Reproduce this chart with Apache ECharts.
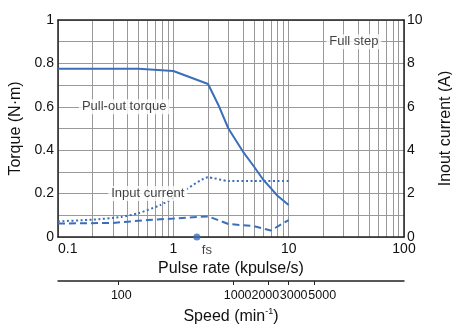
<!DOCTYPE html>
<html>
<head>
<meta charset="utf-8">
<script src="https://cdn.jsdelivr.net/npm/echarts@6/dist/echarts.min.js"></script>
<style>
  html, body { margin: 0; padding: 0; background: #fff; }
  #chart { width: 452px; height: 327px; }
</style>
</head>
<body>
<div id="chart"></div>
<script>
// pulse rate in kpulse/s
const torquePulse = [0.1, 0.5, 1, 2, 2.5, 3, 4, 5, 6, 7, 8, 10];
const torqueValues = [0.775, 0.775, 0.765, 0.705, 0.6, 0.5, 0.395, 0.325, 0.265, 0.225, 0.19, 0.147];

// input current (A), dotted
const dottedPulse = [0.1, 0.2, 0.35, 0.5, 0.77, 1, 1.3, 2, 3, 5, 10];
const dottedCurrent = [0.72, 0.8, 0.92, 1.1, 1.47, 1.8, 2.2, 2.75, 2.58, 2.58, 2.58];

// input current (A), dashed
const dashedPulse = [0.1, 0.3, 0.6, 1, 2, 3, 5, 7, 10];
const dashedCurrent = [0.62, 0.65, 0.78, 0.85, 0.95, 0.6, 0.5, 0.3, 0.78];

const speedTicks = [100, 1000, 2000, 3000, 5000];
const rpmPerKpulse = 300;
const fsPulse = 1.6;

const notes = [
    {name: 'Pull-out torque', value: [0.375, 0.6]},
    {name: 'Input current', value: [0.6, 0.2]},
    {name: 'Full step', value: [36.7, 0.9]}
];

const FONT = "'Liberation Sans', Arial, sans-serif";
const BLUE = '#3b6fba';
const GRID = '#999';
const AXIS = '#222';
const TEXT = '#111';
const SPEED_FS = 12.5;

// minor log gridlines, 2..9 in each decade
const minorPulse = [];
[0.1, 1, 10].forEach(d => {
    for (let k = 2; k <= 9; k++) minorPulse.push(Math.log10(d * k));
});

// the speed labels sit side by side in the original, nudged off their ticks (px)
const speedNudge = {100: 3, 1000: 4, 2000: -3, 3000: 5, 5000: 8};
const speedRich = {};
speedTicks.forEach(s => {
    const n = speedNudge[s];
    const w = String(s).length * 0.556 * SPEED_FS;
    speedRich['s' + s] = {
        fontSize: SPEED_FS, fontFamily: FONT, color: TEXT,
        width: Math.max(2, w - 2 * Math.abs(n)),
        align: n >= 0 ? 'left' : 'right'
    };
});

const zip = (xs, ys) => xs.map((x, i) => [x, ys[i]]);

const chart = echarts.init(document.getElementById('chart'));
chart.setOption({
    animation: false,
    textStyle: {fontFamily: FONT, color: TEXT},
    grid: {left: 58, right: 48, top: 20, bottom: 90, outerBoundsMode: 'none'},
    xAxis: [
        {
            type: 'log', logBase: 10, min: 0.1, max: 100,
            position: 'bottom',
            name: 'Pulse rate (kpulse/s)', nameLocation: 'middle', nameGap: 21,
            nameTextStyle: {fontSize: 16, color: TEXT, fontFamily: FONT},
            axisLine: {onZero: false, lineStyle: {color: AXIS, width: 1.5}},
            axisTick: {show: false},
            axisLabel: {fontSize: 14, color: TEXT, margin: 5, alignMinLabel: 'left', fontFamily: FONT},
            splitLine: {show: true, lineStyle: {color: GRID, width: 1}}
        },
        {
            type: 'value', min: -1, max: 2,
            position: 'top',
            axisLine: {show: true, onZero: false, lineStyle: {color: AXIS, width: 1.5}},
            axisTick: {show: false, customValues: minorPulse},
            axisLabel: {show: false},
            splitLine: {show: true, lineStyle: {color: GRID, width: 1}}
        },
        {
            type: 'value',
            min: Math.log10(0.1 * rpmPerKpulse), max: Math.log10(100 * rpmPerKpulse),
            position: 'bottom', offset: 44,
            name: 'Speed (min{sup|-1})', nameLocation: 'middle', nameGap: 19,
            nameTextStyle: {
                fontSize: 16, color: TEXT, fontFamily: FONT,
                rich: {sup: {fontSize: 9, verticalAlign: 'top', lineHeight: 20, fontFamily: FONT, color: TEXT}}
            },
            axisLine: {show: true, onZero: false, lineStyle: {color: AXIS, width: 1.5}},
            axisTick: {show: true, length: 4, customValues: speedTicks.map(Math.log10), lineStyle: {color: AXIS}},
            axisLabel: {
                color: TEXT, margin: 8, fontFamily: FONT, fontSize: SPEED_FS, hideOverlap: false,
                showMinLabel: true, showMaxLabel: true,
                customValues: speedTicks.map(Math.log10),
                formatter: v => {
                    const s = Math.round(Math.pow(10, v));
                    return '{s' + s + '|' + s + '}';
                },
                rich: speedRich
            },
            splitLine: {show: false}
        }
    ],
    yAxis: [
        {
            type: 'value', min: 0, max: 1, interval: 0.2,
            position: 'left',
            name: 'Torque (N·m)', nameLocation: 'middle', nameGap: 29,
            nameTextStyle: {fontSize: 16, color: TEXT, fontFamily: FONT},
            axisLine: {show: true, onZero: false, lineStyle: {color: AXIS, width: 1.5}},
            axisTick: {show: false},
            axisLabel: {fontSize: 14, color: TEXT, margin: 4, fontFamily: FONT},
            splitLine: {show: true, lineStyle: {color: GRID, width: 1}},
            minorTick: {show: false, splitNumber: 2},
            minorSplitLine: {show: true, lineStyle: {color: GRID, width: 1}}
        },
        {
            type: 'value', min: 0, max: 10, interval: 2,
            position: 'right',
            name: 'Inout current (A)', nameLocation: 'middle', nameGap: 34,
            nameTextStyle: {fontSize: 16, color: TEXT, fontFamily: FONT},
            axisLine: {show: true, onZero: false, lineStyle: {color: AXIS, width: 1.5}},
            axisTick: {show: false},
            axisLabel: {fontSize: 14, color: TEXT, margin: 3, fontFamily: FONT},
            splitLine: {show: false}
        }
    ],
    series: [
        {
            type: 'line', name: 'torque', xAxisIndex: 0, yAxisIndex: 0,
            data: zip(torquePulse, torqueValues),
            symbol: 'none', lineStyle: {color: BLUE, width: 2}
        },
        {
            type: 'line', name: 'current dotted', xAxisIndex: 0, yAxisIndex: 1,
            data: zip(dottedPulse, dottedCurrent), smooth: 0.2,
            symbol: 'none', lineStyle: {color: BLUE, width: 2, type: [2, 2.5]}
        },
        {
            type: 'line', name: 'current dashed', xAxisIndex: 0, yAxisIndex: 1,
            data: zip(dashedPulse, dashedCurrent),
            symbol: 'none', lineStyle: {color: BLUE, width: 2, type: [7, 4]}
        },
        {
            type: 'scatter', name: 'fs', xAxisIndex: 0, yAxisIndex: 0,
            data: [[fsPulse, 0]], clip: false, z: 5,
            symbol: 'circle', symbolSize: 7, itemStyle: {color: BLUE},
            label: {
                show: true, position: 'bottom', distance: 3, offset: [10, 0],
                formatter: 'fs', fontSize: 13, color: TEXT, fontFamily: FONT
            }
        },
        {
            type: 'scatter', name: 'notes', xAxisIndex: 0, yAxisIndex: 0,
            data: notes, symbolSize: 0, z: 4, silent: true,
            label: {
                show: true, position: 'inside', formatter: p => p.name,
                fontSize: 13, color: TEXT, fontFamily: FONT,
                backgroundColor: '#fff', padding: [1, 3]
            }
        }
    ]
});
</script>
</body>
</html>
